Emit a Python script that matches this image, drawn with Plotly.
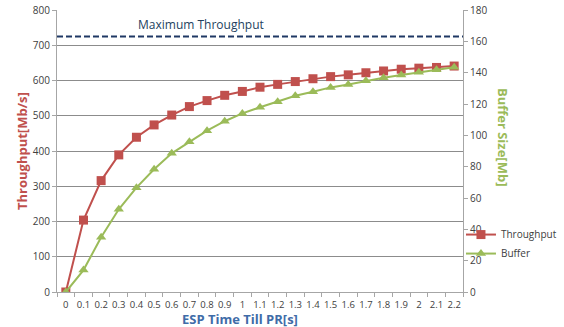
import plotly.graph_objects as go

categories = ["0", "0.1", "0.2", "0.3", "0.4", "0.5", "0.6", "0.7", "0.8", "0.9", "1",
              "1.1", "1.2", "1.3", "1.4", "1.5", "1.6", "1.7", "1.8", "1.9", "2", "2.1", "2.2"]
throughput = [0, 204, 316, 389, 439, 474, 502, 526, 543, 558, 569,
              581, 589, 597, 605, 611, 616, 622, 627, 632, 635, 637, 641]
buffer = [0, 14, 34.9, 52.8, 66.6, 78.3, 88.5, 95.9, 103, 109, 114,
          117.9, 121.4, 125.3, 127.8, 130.6, 132.5, 134.8, 136.8, 138.5, 140.2, 141.9, 143.4]
max_throughput = 725
left_ticks = [0, 100, 200, 300, 400, 500, 600, 700, 800]
right_ticks = [0, 20, 40, 60, 80, 100, 120, 140, 160, 180]

RED = "#C0504D"
GREEN = "#9BBB59"
BLUE = "#3F6CA8"
NAVY = "#1F3864"
FONT = "Open Sans"

fig = go.Figure()
fig.add_trace(go.Scatter(
    x=categories, y=throughput, name="Throughput", mode="lines+markers",
    line=dict(color=RED, width=2),
    marker=dict(symbol="square", size=9, color=RED),
))
fig.add_trace(go.Scatter(
    x=categories, y=buffer, name="Buffer", mode="lines+markers", yaxis="y2",
    line=dict(color=GREEN, width=2),
    marker=dict(symbol="triangle-up", size=9, color=GREEN),
))

fig.add_shape(type="line", xref="paper", x0=0, x1=1, yref="y", y0=max_throughput, y1=max_throughput,
              line=dict(color=NAVY, width=2, dash="6px,3px"))
fig.add_annotation(text="Maximum Throughput", xref="paper", x=0.355, xanchor="center", yref="y",
                   y=max_throughput, yanchor="bottom", yshift=1, showarrow=False,
                   font=dict(family=FONT, size=12, color="#243F60"))

fig.add_annotation(text="<b>Throughput[Mb/s]</b>", xref="paper", x=0, xanchor="center", xshift=-35,
                   yref="paper", y=0.5, yanchor="middle",
                   textangle=-90, showarrow=False, font=dict(family=FONT, size=13, color=RED))
fig.add_annotation(text="<b>Buffer Size[Mb]</b>", xref="paper", x=1, xanchor="center", xshift=40,
                   yref="paper", y=0.55, yanchor="middle",
                   textangle=90, showarrow=False, font=dict(family=FONT, size=13, color=GREEN))
fig.add_annotation(text="<b>ESP Time Till PR[s]</b>", xref="paper", x=0.45, xanchor="center",
                   yref="paper", y=0, yshift=-16, yanchor="top", showarrow=False,
                   font=dict(family=FONT, size=13, color=BLUE))

fig.update_layout(
    width=564, height=327,
    margin=dict(l=57, r=101, t=10, b=35, autoexpand=False),
    plot_bgcolor="white", paper_bgcolor="white",
    font=dict(family=FONT, size=10, color="#404040"),
    showlegend=True,
    legend=dict(x=0.995, y=0.17, xanchor="left", yanchor="middle",
                font=dict(family=FONT, size=10, color="#404040"),
                bgcolor="rgba(0,0,0,0)", itemwidth=30, tracegroupgap=2),
    xaxis=dict(type="category", tickmode="array", tickvals=categories, ticktext=categories,
               showgrid=False, showline=True, linecolor="#A6A6A6", linewidth=1,
               ticks="outside", ticklen=4, tickcolor="#A6A6A6", tickson="boundaries",
               range=[-0.5, 22.5], tickfont=dict(size=9.5), tickangle=0, automargin=False,
               ticklabelstandoff=4, zeroline=False),
    yaxis=dict(range=[0, 800], tickvals=left_ticks, showgrid=True, gridcolor="#8C8C8C", gridwidth=1,
               showline=True, linecolor="#A6A6A6", ticks="outside", ticklen=4, tickcolor="#A6A6A6",
               zeroline=False, tickfont=dict(size=10), automargin=False),
    yaxis2=dict(range=[0, 180], tickvals=right_ticks, overlaying="y", side="right", showgrid=False,
                showline=True, linecolor="#A6A6A6", ticks="outside", ticklen=4, tickcolor="#A6A6A6",
                zeroline=False, tickfont=dict(size=10), automargin=False),
)

fig.write_html("out.html", config={"displayModeBar": False},
               post_script="document.body.style.margin='0';")
